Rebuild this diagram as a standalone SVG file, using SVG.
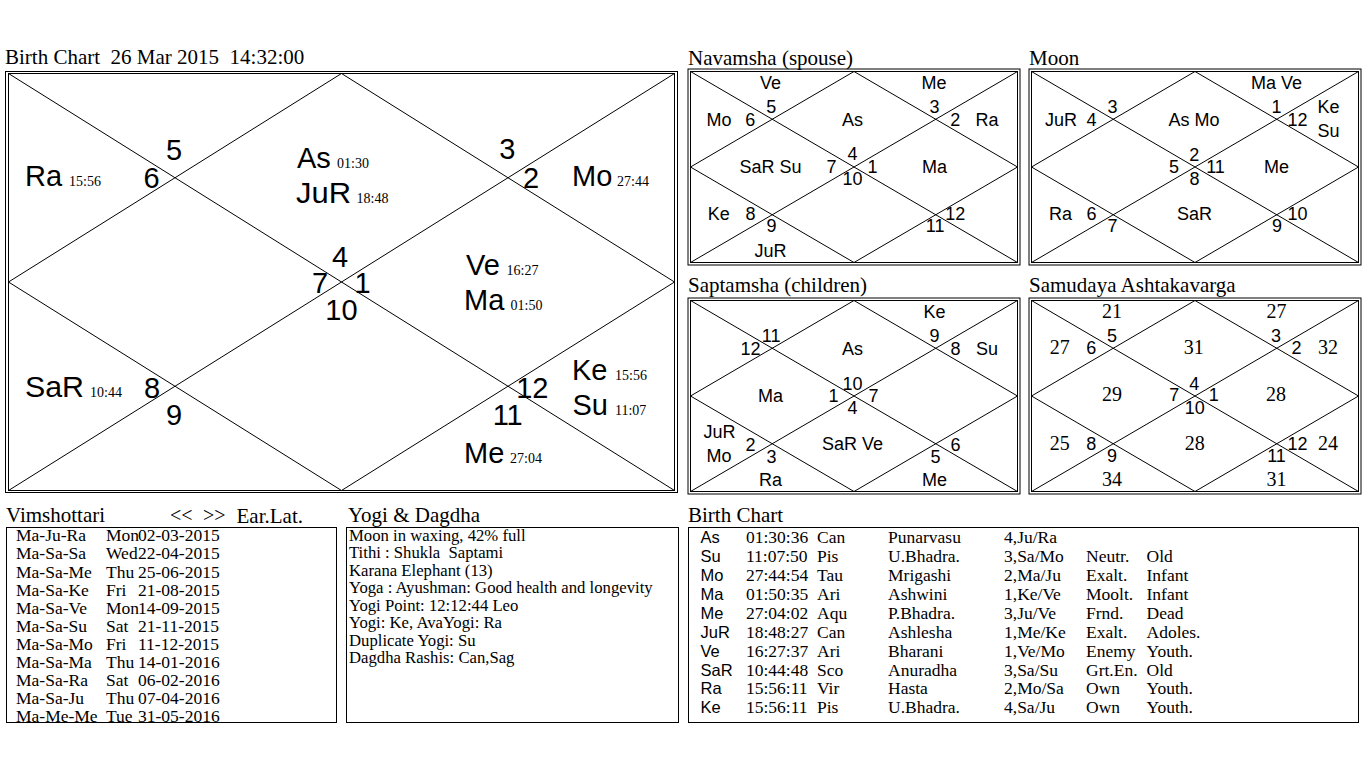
<svg xmlns="http://www.w3.org/2000/svg" width="1366" height="768" viewBox="0 0 1366 768">
<style>
.ln{stroke:#000;stroke-width:1;fill:none}
.big{font-family:"Liberation Sans",Arial,sans-serif;font-size:29px;fill:#000}
.bigc{font-family:"Liberation Sans",Arial,sans-serif;font-size:29px;fill:#000;text-anchor:middle}
.deg{font-family:"Liberation Serif","Times New Roman",serif;font-size:14px;fill:#000}
.sm{font-family:"Liberation Sans",Arial,sans-serif;font-size:18px;fill:#000;text-anchor:middle}
.av{font-family:"Liberation Serif","Times New Roman",serif;font-size:20px;fill:#000;text-anchor:middle}
.ttl{font-family:"Liberation Serif","Times New Roman",serif;font-size:21px;fill:#000;white-space:pre}
.nav{font-family:"Liberation Serif","Times New Roman",serif;font-size:20px;fill:#000}
.tb{font-family:"Liberation Serif","Times New Roman",serif;font-size:17.5px;fill:#000;white-space:pre}
.ty{font-family:"Liberation Serif","Times New Roman",serif;font-size:16.7px;fill:#000;white-space:pre}
.tbs{font-family:"Liberation Sans",Arial,sans-serif;font-size:16.5px;fill:#000}
</style>
<defs>
<g id="grid">
<rect class="ln" x="-2.5" y="-2.5" width="332" height="196"/>
<rect class="ln" x="0" y="0" width="327" height="191"/>
<path class="ln" d="M0 0L327 191M327 0L0 191M163.5 0L327 95.5L163.5 191L0 95.5Z"/>
</g>
</defs>
<rect width="1366" height="768" fill="#fff"/>

<g id="main-chart">
<text class="ttl" x="5" y="64" xml:space="preserve">Birth Chart  26 Mar 2015  14:32:00</text>
<rect class="ln" x="5.5" y="71.5" width="672" height="421"/>
<rect class="ln" x="8.5" y="73.5" width="666" height="417"/>
<path class="ln" d="M8.5 73.5L674.5 490.5M674.5 73.5L8.5 490.5M341.5 73.5L674.5 282L341.5 490.5L8.5 282Z"/>
<text class="bigc" x="174" y="160">5</text>
<text class="bigc" x="151.5" y="188">6</text>
<text class="bigc" x="507.3" y="159">3</text>
<text class="bigc" x="531" y="188">2</text>
<text class="bigc" x="340" y="267">4</text>
<text class="bigc" x="320" y="293">7</text>
<text class="bigc" x="362.5" y="293">1</text>
<text class="bigc" x="341.5" y="320">10</text>
<text class="bigc" x="532.3" y="398">12</text>
<text class="bigc" x="507.7" y="425">11</text>
<text class="bigc" x="152" y="398">8</text>
<text class="bigc" x="174" y="425">9</text>
<text class="big" x="25" y="186">Ra</text><text class="deg" x="69" y="186">15:56</text>
<text class="big" x="297" y="168">As</text><text class="deg" x="337" y="168">01:30</text>
<text class="big" x="296" y="203" textLength="55" lengthAdjust="spacingAndGlyphs">JuR</text><text class="deg" x="356.5" y="203">18:48</text>
<text class="big" x="572" y="186">Mo</text><text class="deg" x="617" y="186">27:44</text>
<text class="big" x="466" y="275">Ve</text><text class="deg" x="506.5" y="275">16:27</text>
<text class="big" x="464" y="310">Ma</text><text class="deg" x="510.5" y="310">01:50</text>
<text class="big" x="572" y="380">Ke</text><text class="deg" x="615" y="380">15:56</text>
<text class="big" x="572.5" y="415">Su</text><text class="deg" x="615" y="415">11:07</text>
<text class="big" x="464" y="463">Me</text><text class="deg" x="510" y="463">27:04</text>
<text class="big" x="25" y="397" textLength="59" lengthAdjust="spacingAndGlyphs">SaR</text><text class="deg" x="90" y="397">10:44</text>
</g>

<g id="navamsha">
<text class="ttl" x="688" y="65">Navamsha (spouse)</text>
<g transform="translate(690.5,71.5)">
<use href="#grid"/>
<text class="sm" x="80.7" y="41.3">5</text>
<text class="sm" x="59.7" y="54">6</text>
<text class="sm" x="141" y="101.3">7</text>
<text class="sm" x="60" y="148.7">8</text>
<text class="sm" x="81" y="160.3">9</text>
<text class="sm" x="162" y="113">10</text>
<text class="sm" x="244.7" y="160.3">11</text>
<text class="sm" x="264.7" y="148.7">12</text>
<text class="sm" x="182" y="101.3">1</text>
<text class="sm" x="264.7" y="54">2</text>
<text class="sm" x="244" y="41.3">3</text>
<text class="sm" x="162" y="88">4</text>
<text class="sm" x="80" y="17.3">Ve</text>
<text class="sm" x="243.5" y="17.3">Me</text>
<text class="sm" x="28.5" y="54">Mo</text>
<text class="sm" x="162" y="54">As</text>
<text class="sm" x="296.5" y="54">Ra</text>
<text class="sm" x="80" y="101.3">SaR Su</text>
<text class="sm" x="244" y="101.3">Ma</text>
<text class="sm" x="28.3" y="148.7">Ke</text>
<text class="sm" x="80" y="185.3">JuR</text>
</g>
</g>

<g id="moon">
<text class="ttl" x="1029" y="65">Moon</text>
<g transform="translate(1031.5,71.5)">
<use href="#grid"/>
<text class="sm" x="81" y="41.3">3</text>
<text class="sm" x="60" y="54">4</text>
<text class="sm" x="142.5" y="101.3">5</text>
<text class="sm" x="60" y="148.7">6</text>
<text class="sm" x="81" y="160.3">7</text>
<text class="sm" x="163" y="113">8</text>
<text class="sm" x="245.5" y="160.3">9</text>
<text class="sm" x="266" y="148.7">10</text>
<text class="sm" x="184" y="101.3">11</text>
<text class="sm" x="266" y="54">12</text>
<text class="sm" x="245" y="41.3">1</text>
<text class="sm" x="162.7" y="89.7">2</text>
<text class="sm" x="245" y="17.3">Ma Ve</text>
<text class="sm" x="29.5" y="54">JuR</text>
<text class="sm" x="162.5" y="54">As Mo</text>
<text class="sm" x="297" y="41.3">Ke</text>
<text class="sm" x="297" y="65.3">Su</text>
<text class="sm" x="245" y="101.3">Me</text>
<text class="sm" x="29" y="148.7">Ra</text>
<text class="sm" x="163" y="148.7">SaR</text>
</g>
</g>

<g id="saptamsha">
<text class="ttl" x="688" y="292">Saptamsha (children)</text>
<g transform="translate(690.5,300.5)">
<use href="#grid"/>
<text class="sm" x="80.7" y="41.3">11</text>
<text class="sm" x="60" y="54">12</text>
<text class="sm" x="143" y="101.3">1</text>
<text class="sm" x="60" y="150">2</text>
<text class="sm" x="81" y="162">3</text>
<text class="sm" x="162" y="113.5">4</text>
<text class="sm" x="245" y="162">5</text>
<text class="sm" x="265" y="150">6</text>
<text class="sm" x="183" y="101.3">7</text>
<text class="sm" x="265" y="54">8</text>
<text class="sm" x="244" y="41.3">9</text>
<text class="sm" x="162" y="89">10</text>
<text class="sm" x="244" y="17.3">Ke</text>
<text class="sm" x="162" y="54">As</text>
<text class="sm" x="296.5" y="54">Su</text>
<text class="sm" x="80" y="101.3">Ma</text>
<text class="sm" x="29" y="137.3">JuR</text>
<text class="sm" x="28.5" y="161.7">Mo</text>
<text class="sm" x="162" y="149.5">SaR Ve</text>
<text class="sm" x="80" y="185.5">Ra</text>
<text class="sm" x="244" y="185.5">Me</text>
</g>
</g>

<g id="ashtakavarga">
<text class="ttl" x="1029" y="292">Samudaya Ashtakavarga</text>
<g transform="translate(1031.5,300.5)">
<use href="#grid"/>
<text class="sm" x="80.5" y="41.7">5</text>
<text class="sm" x="59.7" y="53.3">6</text>
<text class="sm" x="142.7" y="100.7">7</text>
<text class="sm" x="59.7" y="149">8</text>
<text class="sm" x="80.5" y="161.7">9</text>
<text class="sm" x="163.3" y="113.3">10</text>
<text class="sm" x="245" y="161.7">11</text>
<text class="sm" x="266" y="149">12</text>
<text class="sm" x="182.3" y="100.7">1</text>
<text class="sm" x="265" y="53.3">2</text>
<text class="sm" x="244.5" y="41.7">3</text>
<text class="sm" x="162.7" y="89.7">4</text>
<text class="av" x="80.5" y="17.3">21</text>
<text class="av" x="245" y="17.3">27</text>
<text class="av" x="28.3" y="53.3">27</text>
<text class="av" x="162.3" y="53.3">31</text>
<text class="av" x="296.5" y="53.3">32</text>
<text class="av" x="80.5" y="100.7">29</text>
<text class="av" x="244.5" y="100.7">28</text>
<text class="av" x="28.3" y="149">25</text>
<text class="av" x="163.2" y="149">28</text>
<text class="av" x="296.5" y="149">24</text>
<text class="av" x="80.5" y="185">34</text>
<text class="av" x="245" y="185">31</text>
</g>
</g>

<g id="vimshottari">
<text class="ttl" x="6" y="522">Vimshottari</text>
<text class="nav" x="170" y="522">&lt;&lt;</text>
<text class="nav" x="203" y="522">&gt;&gt;</text>
<text class="ttl" x="236.5" y="522.5">Ear.Lat.</text>
<rect class="ln" x="6.5" y="527.5" width="330" height="195"/>
<text class="tb"><tspan x="16" y="541">Ma-Ju-Ra</tspan><tspan x="106">Mon</tspan><tspan x="138">02-03-2015</tspan></text>
<text class="tb"><tspan x="16" y="559.3">Ma-Sa-Sa</tspan><tspan x="106">Wed</tspan><tspan x="138">22-04-2015</tspan></text>
<text class="tb"><tspan x="16" y="577.6">Ma-Sa-Me</tspan><tspan x="106">Thu</tspan><tspan x="138">25-06-2015</tspan></text>
<text class="tb"><tspan x="16" y="595.7">Ma-Sa-Ke</tspan><tspan x="106">Fri</tspan><tspan x="138">21-08-2015</tspan></text>
<text class="tb"><tspan x="16" y="614">Ma-Sa-Ve</tspan><tspan x="106">Mon</tspan><tspan x="138">14-09-2015</tspan></text>
<text class="tb"><tspan x="16" y="631.7">Ma-Sa-Su</tspan><tspan x="106">Sat</tspan><tspan x="138">21-11-2015</tspan></text>
<text class="tb"><tspan x="16" y="650">Ma-Sa-Mo</tspan><tspan x="106">Fri</tspan><tspan x="138">11-12-2015</tspan></text>
<text class="tb"><tspan x="16" y="667.7">Ma-Sa-Ma</tspan><tspan x="106">Thu</tspan><tspan x="138">14-01-2016</tspan></text>
<text class="tb"><tspan x="16" y="686">Ma-Sa-Ra</tspan><tspan x="106">Sat</tspan><tspan x="138">06-02-2016</tspan></text>
<text class="tb"><tspan x="16" y="704">Ma-Sa-Ju</tspan><tspan x="106">Thu</tspan><tspan x="138">07-04-2016</tspan></text>
<text class="tb"><tspan x="16" y="721.7">Ma-Me-Me</tspan><tspan x="106">Tue</tspan><tspan x="138">31-05-2016</tspan></text>
</g>

<g id="yogi-dagdha">
<text class="ttl" x="348" y="522">Yogi &amp; Dagdha</text>
<rect class="ln" x="346.5" y="527.5" width="332" height="195"/>
<text class="ty" x="349" y="541">Moon in waxing, 42% full</text>
<text class="ty" x="349" y="558.3" xml:space="preserve">Tithi : Shukla  Saptami</text>
<text class="ty" x="349" y="575.7">Karana Elephant (13)</text>
<text class="ty" x="349" y="592.7">Yoga : Ayushman: Good health and longevity</text>
<text class="ty" x="349" y="611">Yogi Point: 12:12:44 Leo</text>
<text class="ty" x="349" y="628.3">Yogi: Ke, AvaYogi: Ra</text>
<text class="ty" x="349" y="645.7">Duplicate Yogi: Su</text>
<text class="ty" x="349" y="662.7">Dagdha Rashis: Can,Sag</text>
</g>

<g id="birth-table">
<text class="ttl" x="688" y="522">Birth Chart</text>
<rect class="ln" x="688.5" y="527.5" width="670" height="195"/>
<g class="tbs">
<text x="700.5" y="543.3">As</text>
<text x="700.5" y="562.3">Su</text>
<text x="700.5" y="581">Mo</text>
<text x="700.5" y="600">Ma</text>
<text x="700.5" y="619">Me</text>
<text x="700.5" y="637.7">JuR</text>
<text x="700.5" y="656.7">Ve</text>
<text x="700.5" y="675.7">SaR</text>
<text x="700.5" y="694.3">Ra</text>
<text x="700.5" y="713.3">Ke</text>
</g>
<text class="tb"><tspan x="746" y="543.3">01:30:36</tspan><tspan x="817">Can</tspan><tspan x="888">Punarvasu</tspan><tspan x="1004">4,Ju/Ra</tspan></text>
<text class="tb"><tspan x="746" y="562.3">11:07:50</tspan><tspan x="817">Pis</tspan><tspan x="888">U.Bhadra.</tspan><tspan x="1004">3,Sa/Mo</tspan><tspan x="1086">Neutr.</tspan><tspan x="1146.5">Old</tspan></text>
<text class="tb"><tspan x="746" y="581">27:44:54</tspan><tspan x="817">Tau</tspan><tspan x="888">Mrigashi</tspan><tspan x="1004">2,Ma/Ju</tspan><tspan x="1086">Exalt.</tspan><tspan x="1146.5">Infant</tspan></text>
<text class="tb"><tspan x="746" y="600">01:50:35</tspan><tspan x="817">Ari</tspan><tspan x="888">Ashwini</tspan><tspan x="1004">1,Ke/Ve</tspan><tspan x="1086">Moolt.</tspan><tspan x="1146.5">Infant</tspan></text>
<text class="tb"><tspan x="746" y="619">27:04:02</tspan><tspan x="817">Aqu</tspan><tspan x="888">P.Bhadra.</tspan><tspan x="1004">3,Ju/Ve</tspan><tspan x="1086">Frnd.</tspan><tspan x="1146.5">Dead</tspan></text>
<text class="tb"><tspan x="746" y="637.7">18:48:27</tspan><tspan x="817">Can</tspan><tspan x="888">Ashlesha</tspan><tspan x="1004">1,Me/Ke</tspan><tspan x="1086">Exalt.</tspan><tspan x="1146.5">Adoles.</tspan></text>
<text class="tb"><tspan x="746" y="656.7">16:27:37</tspan><tspan x="817">Ari</tspan><tspan x="888">Bharani</tspan><tspan x="1004">1,Ve/Mo</tspan><tspan x="1086">Enemy</tspan><tspan x="1146.5">Youth.</tspan></text>
<text class="tb"><tspan x="746" y="675.7">10:44:48</tspan><tspan x="817">Sco</tspan><tspan x="888">Anuradha</tspan><tspan x="1004">3,Sa/Su</tspan><tspan x="1086">Grt.En.</tspan><tspan x="1146.5">Old</tspan></text>
<text class="tb"><tspan x="746" y="694.3">15:56:11</tspan><tspan x="817">Vir</tspan><tspan x="888">Hasta</tspan><tspan x="1004">2,Mo/Sa</tspan><tspan x="1086">Own</tspan><tspan x="1146.5">Youth.</tspan></text>
<text class="tb"><tspan x="746" y="713.3">15:56:11</tspan><tspan x="817">Pis</tspan><tspan x="888">U.Bhadra.</tspan><tspan x="1004">4,Sa/Ju</tspan><tspan x="1086">Own</tspan><tspan x="1146.5">Youth.</tspan></text>
</g>
</svg>
